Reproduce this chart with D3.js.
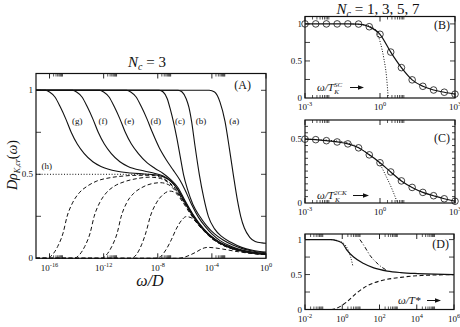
<!DOCTYPE html>
<html>
<head>
<meta charset="utf-8">
<script src="https://cdn.jsdelivr.net/npm/d3@7"></script>
<style>
body { margin: 0; background: #fff; }
svg { display: block; }
text { font-family: "Liberation Serif", "DejaVu Serif", serif; fill: #111; }
</style>
</head>
<body>
<svg id="chart" width="460" height="327"></svg>
<script>
// points are [log10(omega), value]

// panel A, solid curves (a)..(g)
var solidA_a = [[-17,1],[-4.2,1],[-3.8,0.99],[-3.4,0.93],[-3.03,0.815],[-2.7,0.65],[-2.42,0.5],[-2.1,0.34],[-1.87,0.25],[-1.6,0.18],[-1.2,0.125],[-0.8,0.1],[-0.3,0.092],[0,0.09]];
var solidA_b = [[-17,1],[-6.5,1],[-6.2,0.99],[-5.9,0.95],[-5.7,0.9],[-5.5,0.815],[-5.25,0.67],[-4.93,0.5],[-4.6,0.36],[-4.26,0.25],[-3.8,0.175],[-3.28,0.13],[-2.6,0.095],[-1.8,0.065],[-1,0.048],[0,0.037]];
var solidA_c = [[-17,1],[-7.9,1],[-7.6,0.99],[-7.3,0.95],[-7.05,0.88],[-6.85,0.815],[-6.6,0.72],[-6.35,0.61],[-6.1,0.5],[-5.8,0.41],[-5.4,0.32],[-4.9,0.25],[-4.4,0.195],[-3.8,0.145],[-3.2,0.11],[-2.5,0.08],[-1.7,0.056],[-1,0.043],[0,0.032]];
var solidA_d = [[-17,1],[-10.3,1],[-10,0.99],[-9.6,0.96],[-9.2,0.9],[-8.8,0.83],[-8.4,0.75],[-7.9,0.66],[-7.4,0.59],[-6.9,0.53],[-6.4,0.47],[-6,0.41],[-5.5,0.32],[-5,0.245],[-4.5,0.19],[-4,0.145],[-3.4,0.105],[-2.5,0.068],[-1.7,0.048],[-1,0.037],[0,0.028]];
var solidA_e = [[-17,1],[-12.3,1],[-12,0.99],[-11.6,0.96],[-11.2,0.9],[-10.8,0.83],[-10.4,0.75],[-9.95,0.68],[-9.45,0.625],[-8.8,0.57],[-8.2,0.535],[-7.6,0.505],[-7,0.465],[-6.5,0.42],[-6,0.345],[-5.4,0.262],[-4.6,0.175],[-4,0.128],[-3.4,0.094],[-2.5,0.062],[-1.7,0.044],[-1,0.034],[0,0.026]];
var solidA_f = [[-17,1],[-14.3,1],[-14,0.99],[-13.6,0.96],[-13.2,0.9],[-12.8,0.83],[-12.4,0.75],[-11.95,0.68],[-11.45,0.625],[-10.8,0.575],[-10.2,0.547],[-9,0.52],[-8.2,0.505],[-7.6,0.49],[-7,0.458],[-6.6,0.42],[-6,0.338],[-5.4,0.257],[-4.6,0.171],[-4,0.126],[-3.4,0.093],[-2.5,0.06],[-1.7,0.043],[-1,0.033],[0,0.025]];
var solidA_g = [[-17,1],[-16.3,1],[-16,0.99],[-15.6,0.96],[-15.2,0.9],[-14.8,0.83],[-14.4,0.75],[-13.95,0.68],[-13.45,0.625],[-12.8,0.575],[-12.2,0.547],[-11,0.518],[-10,0.508],[-9,0.502],[-8.2,0.497],[-7.6,0.485],[-7,0.455],[-6.6,0.418],[-6,0.335],[-5.4,0.255],[-4.6,0.17],[-4,0.125],[-3.4,0.092],[-2.5,0.06],[-1.7,0.043],[-1,0.033],[0,0.025]];

// panel A, dashed curves
var dashA_1 = [[-17,0],[-16.2,0],[-15.8,0.02],[-15.4,0.07],[-15,0.15],[-14.7,0.25],[-14.3,0.33],[-13.8,0.39],[-13.2,0.43],[-12.5,0.46],[-11.5,0.48],[-10.5,0.49],[-9.5,0.494],[-8.5,0.494],[-7.8,0.482],[-7.2,0.455],[-6.7,0.415],[-6,0.33],[-5.4,0.25],[-4.6,0.166],[-4,0.122],[-3.4,0.09],[-2.5,0.058],[-1.7,0.041],[-1,0.031],[0,0.023]];
var dashA_2 = [[-17,0],[-14.2,0],[-13.8,0.02],[-13.4,0.07],[-13,0.15],[-12.7,0.25],[-12.3,0.33],[-11.8,0.39],[-11.2,0.43],[-10.5,0.455],[-9.5,0.475],[-8.6,0.483],[-7.8,0.475],[-7.2,0.45],[-6.7,0.41],[-6,0.328],[-5.4,0.248],[-4.6,0.165],[-4,0.121],[-3.4,0.089],[-2.5,0.058],[-1.7,0.041],[-1,0.031],[0,0.023]];
var dashA_3 = [[-17,0],[-12.2,0],[-11.8,0.02],[-11.4,0.07],[-11,0.15],[-10.7,0.25],[-10.3,0.33],[-9.8,0.385],[-9.2,0.42],[-8.5,0.443],[-7.8,0.45],[-7.2,0.438],[-6.7,0.402],[-6,0.325],[-5.4,0.246],[-4.6,0.164],[-4,0.12],[-3.4,0.088],[-2.5,0.057],[-1.7,0.04],[-1,0.03],[0,0.023]];
var dashA_4 = [[-17,0],[-10,0],[-9.6,0.02],[-9.2,0.08],[-8.85,0.16],[-8.55,0.25],[-8.1,0.33],[-7.6,0.38],[-7.1,0.4],[-6.7,0.39],[-6.2,0.34],[-5.6,0.265],[-5,0.2],[-4.5,0.155],[-4,0.118],[-3.4,0.087],[-2.5,0.057],[-1.7,0.04],[-1,0.03],[0,0.022]];
var dashA_5 = [[-17,0],[-8.2,0],[-7.8,0.01],[-7.4,0.05],[-7,0.11],[-6.6,0.18],[-6.2,0.23],[-5.9,0.248],[-5.5,0.24],[-5,0.2],[-4.5,0.155],[-4,0.117],[-3.4,0.086],[-2.5,0.056],[-1.7,0.04],[-1,0.03],[0,0.022]];
var dashA_6 = [[-17,0],[-6.6,0],[-6.1,0.005],[-5.6,0.02],[-5.1,0.04],[-4.7,0.058],[-4.3,0.065],[-3.8,0.062],[-3.2,0.055],[-2.5,0.045],[-1.7,0.035],[-1,0.028],[0,0.022]];

// (h): constant 1/2
var dotA_h = [[-17,0.5],[-8.5,0.5]];

var labelsA = ["(a)","(b)","(c)","(d)","(e)","(f)","(g)"];
var labelPosA = [-2.35, -4.8, -6.35, -8.15, -10.1, -12.05, -13.95];

// panel B: circles (N_c = 1,3,5,7 collapse), the line runs through them
var circB_x = [-3,-2.571,-2.143,-1.714,-1.286,-0.857,-0.429,0,0.429,0.857,1.286,1.714,2.143,2.571,3];
var circB_y = [1,1,1,1,1,0.998,0.962,0.86,0.62,0.41,0.245,0.158,0.108,0.078,0.052];
var dotB = [[-1.2,1],[-0.6,0.985],[-0.3,0.95],[-0.18,0.92],[0.02,0.74],[0.15,0.54],[0.26,0.29],[0.33,0]];

// panel C
var circC_x = [-3,-2.571,-2.143,-1.714,-1.286,-0.857,-0.429,0,0.429,0.857,1.286,1.714,2.143,2.571,3];
var circC_y = [0.5,0.496,0.488,0.478,0.463,0.432,0.377,0.315,0.243,0.173,0.122,0.083,0.057,0.033,0.014];
var dotC = [[-3,0.5],[-1.5,0.48],[-0.9,0.44],[-0.45,0.38],[-0.02,0.31],[0.23,0.215],[0.5,0.1],[0.7,0]];

// panel D
var solidD = [[-2,1],[-0.6,1],[-0.3,0.985],[0,0.95],[0.25,0.85],[0.61,0.75],[1.15,0.657],[1.69,0.595],[2.42,0.55],[3.14,0.528],[4.04,0.514],[5,0.505],[6,0.5]];
var dashD = [[-2,0],[-0.56,0],[-0.29,0.02],[0.25,0.11],[0.79,0.24],[1.34,0.34],[2.05,0.41],[3.14,0.46],[4.22,0.486],[5,0.494],[6,0.5]];
var dotD = [[-0.6,1],[-0.2,0.98],[0.1,0.94],[0.3,0.86],[0.45,0.75],[0.58,0.61]];
var dashdotD = [[0.95,1],[1.2,0.9],[1.5,0.77],[1.8,0.68],[2.1,0.61],[2.4,0.56]];

var ink = "#111";
var svg = d3.select("#chart");

function pow(e) { return Math.pow(10, e); }
function zip(xs, ys) { return xs.map(function(v, i) { return [v, ys[i]]; }); }

function panel(p) {
  var x = d3.scaleLog().domain([pow(p.xd[0]), pow(p.xd[1])]).range([p.left, p.right]);
  var y = d3.scaleLinear().domain(p.yd).range([p.bottom, p.top]);
  var g = svg.append("g");

  g.append("rect")
      .attr("x", p.left).attr("y", p.top)
      .attr("width", p.right - p.left).attr("height", p.bottom - p.top)
      .attr("fill", "none").attr("stroke", ink).attr("stroke-width", 1.2);

  // x ticks, top and bottom, major + minors 2..9 in the decade after each major
  p.xmaj.forEach(function(m) {
    [[p.bottom, -1], [p.top, 1]].forEach(function(s) {
      g.append("line")
          .attr("x1", x(pow(m))).attr("x2", x(pow(m)))
          .attr("y1", s[0]).attr("y2", s[0] + s[1] * 5)
          .attr("stroke", ink).attr("stroke-width", 0.9);
      if (m < p.xd[1]) d3.range(2, 10).forEach(function(k) {
        g.append("line")
            .attr("x1", x(k * pow(m))).attr("x2", x(k * pow(m)))
            .attr("y1", s[0]).attr("y2", s[0] + s[1] * 3)
            .attr("stroke", ink).attr("stroke-width", 0.7);
      });
    });
    var t = g.append("text")
        .attr("x", x(pow(m))).attr("y", p.bottom + p.xlabDy)
        .attr("text-anchor", "middle").attr("font-size", p.fs);
    t.append("tspan").text("10");
    t.append("tspan").attr("dy", -4).attr("font-size", p.fs * 0.7).text(m);
  });

  // y ticks, left and right
  p.yticks.forEach(function(v) {
    [[p.left, 1], [p.right, -1]].forEach(function(s) {
      g.append("line")
          .attr("x1", s[0]).attr("x2", s[0] + s[1] * p.ytl)
          .attr("y1", y(v)).attr("y2", y(v))
          .attr("stroke", ink).attr("stroke-width", 0.8);
    });
  });
  p.ylabels.forEach(function(v) {
    g.append("text")
        .attr("x", p.left - 3).attr("y", y(v[0]) + 3)
        .attr("text-anchor", "end").attr("font-size", p.fs)
        .text(v[1]);
  });

  return {x: x, y: y, g: g};
}

function draw(P, pts, dash, w) {
  var line = d3.line()
      .x(function(d) { return P.x(pow(d[0])); })
      .y(function(d) { return P.y(d[1]); })
      .curve(d3.curveMonotoneX);
  P.g.append("path")
      .datum(pts)
      .attr("d", line)
      .attr("fill", "none")
      .attr("stroke", ink)
      .attr("stroke-width", w || 1.1)
      .attr("stroke-dasharray", dash || null);
}

function circles(P, xs, ys) {
  P.g.selectAll(null)
      .data(xs)
    .enter().append("circle")
      .attr("cx", function(d) { return P.x(pow(d)); })
      .attr("cy", function(d, i) { return P.y(ys[i]); })
      .attr("r", 3.3)
      .attr("fill", "none")
      .attr("stroke", ink)
      .attr("stroke-width", 0.8);
}

function arrowLabel(P, x0, y0, base, sup, sub, x1, x2) {
  var t = P.g.append("text").attr("x", x0).attr("y", y0)
      .attr("font-size", 11).attr("font-style", "italic");
  t.append("tspan").text(base);
  if (sup) t.append("tspan").attr("dy", -4).attr("font-size", 7).text(sup);
  if (sub) t.append("tspan").attr("dx", -(sup.length * 3.9)).attr("dy", 7).attr("font-size", 7).text(sub);
  P.g.append("line").attr("x1", x1).attr("x2", x2 - 4).attr("y1", y0 - 3.5).attr("y2", y0 - 3.5)
      .attr("stroke", ink).attr("stroke-width", 1);
  P.g.append("path")
      .attr("d", "M" + x2 + "," + (y0 - 3.5) + "l-6,-2.3v4.6z")
      .attr("fill", ink);
}

// ---------- panel A ----------
var A = panel({
  left: 36, right: 266, top: 73.5, bottom: 258.3,
  xd: [-17, 0], yd: [0, 1.1],
  xmaj: [-16, -12, -8, -4, 0],
  yticks: [0.25, 0.5, 0.75, 1], ytl: 5,
  ylabels: [[0, "0"], [0.5, "0.5"], [1, "1"]],
  xlabDy: 13, fs: 9
});

[dashA_1, dashA_2, dashA_3, dashA_4, dashA_5, dashA_6].forEach(function(c) { draw(A, c, "4,2.5", 1); });
draw(A, dotA_h, "1,1.8", 1);
[solidA_a, solidA_b, solidA_c, solidA_d, solidA_e, solidA_f, solidA_g].forEach(function(c) { draw(A, c); });

labelsA.forEach(function(l, i) {
  A.g.append("text")
      .attr("x", A.x(pow(labelPosA[i]))).attr("y", A.y(0.815) + 3)
      .attr("text-anchor", "middle").attr("font-size", 9)
      .text(l);
});
A.g.append("text").attr("x", A.x(pow(-16.2))).attr("y", A.y(0.5) - 5)
    .attr("text-anchor", "middle").attr("font-size", 9).text("(h)");
A.g.append("text").attr("x", 251).attr("y", 89).attr("text-anchor", "end")
    .attr("font-size", 12).text("(A)");

var tA = svg.append("text").attr("x", 147).attr("y", 67).attr("text-anchor", "middle")
    .attr("font-size", 15).attr("font-style", "italic");
tA.append("tspan").text("N");
tA.append("tspan").attr("dy", 3).attr("font-size", 10).text("c");
tA.append("tspan").attr("dy", -3).attr("font-style", "normal").text(" = 3");

svg.append("text").attr("x", 150).attr("y", 286).attr("text-anchor", "middle")
    .attr("font-size", 16).attr("font-style", "italic").text("ω/D");

var ylA = svg.append("text").attr("transform", "translate(17,165) rotate(-90)")
    .attr("text-anchor", "middle").attr("font-size", 14).attr("font-style", "italic");
ylA.append("tspan").text("Dρ");
ylA.append("tspan").attr("dy", 3).attr("font-size", 8).text("K,cr");
ylA.append("tspan").attr("dy", -3).attr("font-style", "normal").text("(");
ylA.append("tspan").text("ω");
ylA.append("tspan").attr("font-style", "normal").text(")");

// ---------- panel B ----------
var B = panel({
  left: 305, right: 455, top: 16.5, bottom: 98,
  xd: [-3, 3], yd: [0, 1.1],
  xmaj: [-3, 0, 3],
  yticks: [0.25, 0.5, 0.75, 1], ytl: 5,
  ylabels: [[0, "0"], [0.5, "0.5"], [1, "1"]],
  xlabDy: 12, fs: 9
});
draw(B, dotB, "1,1.6", 1);
draw(B, zip(circB_x, circB_y), null, 1.2);
circles(B, circB_x, circB_y);
B.g.append("text").attr("x", 450).attr("y", 29).attr("text-anchor", "end").attr("font-size", 12).text("(B)");
arrowLabel(B, 317, 91, "ω/T", "SC", "K", 350, 364);

var tB = svg.append("text").attr("x", 378).attr("y", 14).attr("text-anchor", "middle")
    .attr("font-size", 15).attr("font-style", "italic");
tB.append("tspan").text("N");
tB.append("tspan").attr("dy", 3).attr("font-size", 10).text("c");
tB.append("tspan").attr("dy", -3).attr("font-style", "normal").text(" = 1, 3, 5, 7");

// ---------- panel C ----------
var C = panel({
  left: 305, right: 455, top: 120, bottom: 203,
  xd: [-3, 3], yd: [0, 0.65],
  xmaj: [-3, 0, 3],
  yticks: d3.range(1, 13).map(function(i) { return i * 0.05; }), ytl: 3,
  ylabels: [[0, "0"], [0.5, "0.5"]],
  xlabDy: 12, fs: 9
});
draw(C, dotC, "1,1.6", 1);
draw(C, zip(circC_x, circC_y), null, 1.2);
circles(C, circC_x, circC_y);
C.g.append("text").attr("x", 450).attr("y", 142).attr("text-anchor", "end").attr("font-size", 12).text("(C)");
arrowLabel(C, 317, 199, "ω/T", "2CK", "K", 353, 369);

// ---------- panel D ----------
var D = panel({
  left: 305, right: 454, top: 234, bottom: 309.5,
  xd: [-2, 6], yd: [0, 1.08],
  xmaj: [-2, 0, 2, 4, 6],
  yticks: [0.25, 0.5, 0.75, 1], ytl: 5,
  ylabels: [[0, "0"], [0.5, "0.5"], [1, "1"]],
  xlabDy: 12, fs: 9
});
draw(D, dotD, "1,1.6", 1);
draw(D, dashdotD, "4,2,1,2", 1);
draw(D, dashD, "4,2.5", 1.1);
draw(D, solidD, null, 1.2);
D.g.append("text").attr("x", 449).attr("y", 248).attr("text-anchor", "end").attr("font-size", 12).text("(D)");
arrowLabel(D, 398, 304, "ω/T*", null, null, 427, 441);
</script>
</body>
</html>
